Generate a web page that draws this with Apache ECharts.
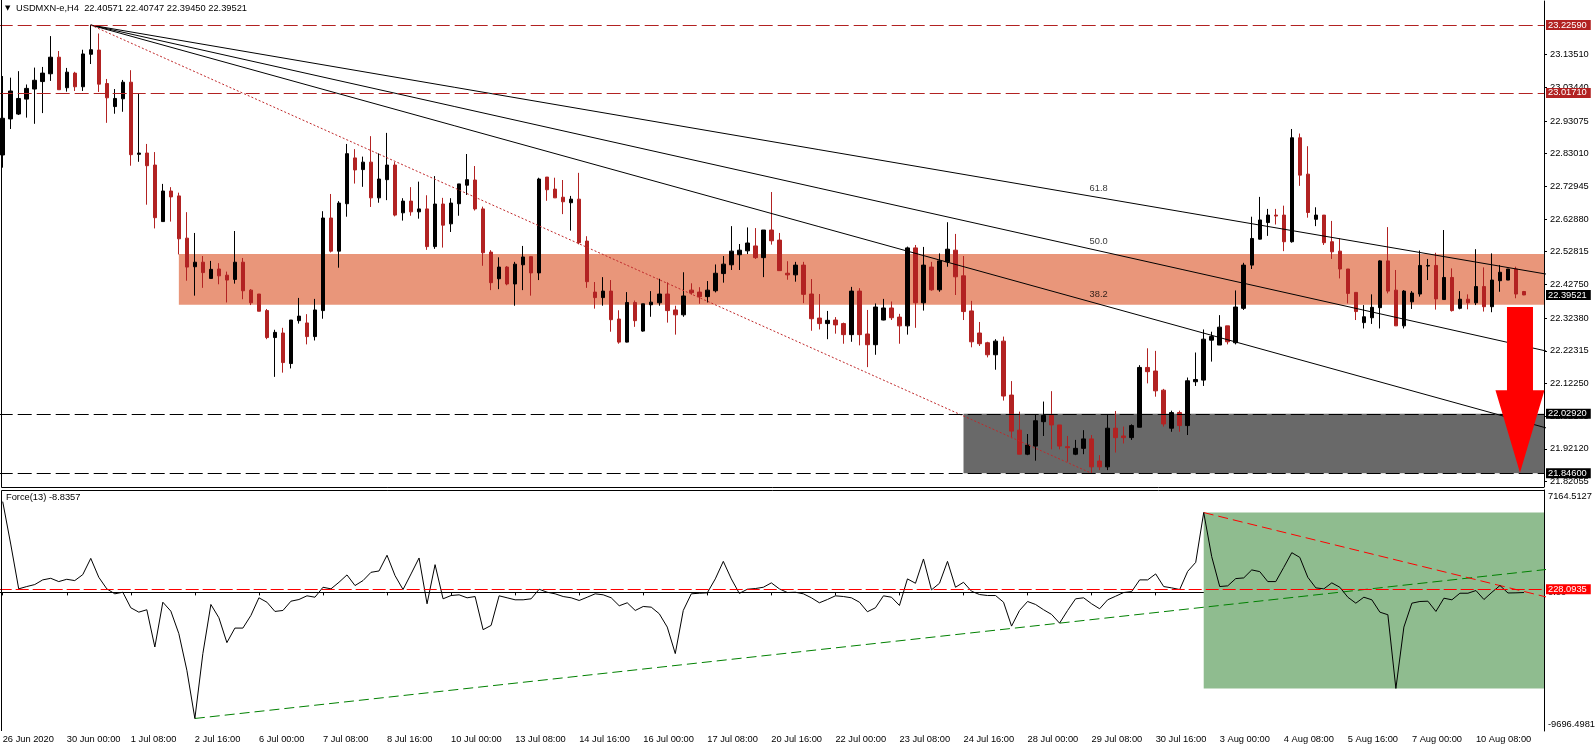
<!DOCTYPE html>
<html><head><meta charset="utf-8">
<script src="https://cdn.jsdelivr.net/npm/echarts@6/dist/echarts.min.js"></script>
<style>html,body{margin:0;padding:0;background:#fff;}#c{width:1595px;height:752px;}</style>
</head><body><div id="c"></div>
<script>
const FONT = "'Liberation Sans', Arial, sans-serif";
const FS = 9.3;
const symbolName = 'USDMXN-e,H4';
const forceName = 'Force(13)';

// x tick labels: one every 8 H4 bars
const xTickLabels = ['26 Jun 2020','30 Jun 00:00','1 Jul 08:00','2 Jul 16:00','6 Jul 00:00','7 Jul 08:00','8 Jul 16:00','10 Jul 00:00','13 Jul 08:00','14 Jul 16:00','16 Jul 00:00','17 Jul 08:00','20 Jul 16:00','22 Jul 00:00','23 Jul 08:00','24 Jul 16:00','28 Jul 00:00','29 Jul 08:00','30 Jul 16:00','3 Aug 00:00','4 Aug 08:00','5 Aug 16:00','7 Aug 00:00','10 Aug 08:00'];
const slotCount = 193; // bars plus empty right shift

// [open, close, low, high]
const ohlc = [
[22.826,22.939,22.787,23.069],[22.937,23.023,22.906,23.064],[22.952,23.000,22.949,23.084],[22.998,23.031,22.941,23.043],
[23.029,23.056,22.922,23.095],[23.052,23.078,22.955,23.097],[23.076,23.127,23.054,23.192],[23.127,23.027,23.027,23.146],
[23.033,23.081,23.021,23.094],[23.078,23.036,23.023,23.082],[23.036,23.137,23.023,23.150],[23.136,23.150,23.106,23.2259],
[23.149,23.044,23.020,23.200],[23.046,23.002,22.925,23.060],[22.975,23.000,22.953,23.029],[22.999,23.050,22.959,23.057],
[23.050,22.827,22.793,23.087],[22.828,22.832,22.805,23.015],[22.832,22.793,22.673,22.860],[22.795,22.633,22.600,22.835],
[22.621,22.715,22.621,22.737],[22.715,22.697,22.621,22.727],[22.700,22.568,22.520,22.710],[22.570,22.481,22.439,22.650],
[22.482,22.496,22.393,22.586],[22.496,22.464,22.417,22.515],[22.446,22.474,22.446,22.500],[22.475,22.454,22.428,22.493],
[22.456,22.441,22.372,22.467],[22.443,22.496,22.430,22.592],[22.496,22.408,22.382,22.509],[22.410,22.371,22.364,22.413],
[22.398,22.345,22.345,22.398],[22.347,22.264,22.259,22.352],[22.264,22.280,22.143,22.288],[22.278,22.187,22.156,22.294],
[22.184,22.318,22.169,22.318],[22.316,22.330,22.307,22.386],[22.309,22.267,22.243,22.336],[22.267,22.349,22.255,22.383],
[22.347,22.632,22.322,22.653],[22.632,22.530,22.526,22.706],[22.530,22.678,22.479,22.684],[22.676,22.830,22.636,22.860],
[22.817,22.780,22.738,22.844],[22.781,22.804,22.728,22.821],[22.804,22.694,22.666,22.884],[22.694,22.752,22.679,22.831],
[22.750,22.795,22.687,22.894],[22.795,22.641,22.637,22.804],[22.648,22.684,22.624,22.693],[22.684,22.651,22.639,22.727],
[22.651,22.660,22.630,22.744],[22.660,22.544,22.534,22.702],[22.544,22.675,22.537,22.761],[22.675,22.610,22.541,22.694],
[22.614,22.678,22.589,22.693],[22.676,22.737,22.639,22.737],[22.733,22.750,22.703,22.829],[22.749,22.660,22.655,22.792],
[22.660,22.525,22.485,22.667],[22.527,22.433,22.410,22.533],[22.445,22.481,22.413,22.511],[22.481,22.429,22.425,22.484],
[22.429,22.490,22.362,22.497],[22.488,22.512,22.410,22.546],[22.513,22.463,22.393,22.514],[22.463,22.752,22.441,22.756],
[22.758,22.719,22.685,22.758],[22.721,22.694,22.694,22.756],[22.696,22.682,22.644,22.749],[22.679,22.690,22.593,22.700],
[22.690,22.556,22.551,22.771],[22.561,22.436,22.417,22.576],[22.404,22.387,22.353,22.435],[22.387,22.407,22.362,22.450],
[22.407,22.319,22.282,22.441],[22.321,22.250,22.245,22.348],[22.250,22.372,22.249,22.404],[22.372,22.316,22.297,22.378],
[22.284,22.368,22.282,22.368],[22.365,22.373,22.328,22.407],[22.371,22.398,22.362,22.445],[22.398,22.347,22.310,22.434],
[22.349,22.334,22.273,22.362],[22.334,22.392,22.328,22.465],[22.410,22.402,22.396,22.431],[22.404,22.390,22.368,22.419],
[22.390,22.410,22.372,22.438],[22.408,22.462,22.403,22.489],[22.461,22.490,22.433,22.515],[22.488,22.530,22.472,22.607],
[22.519,22.533,22.472,22.552],[22.531,22.555,22.521,22.603],[22.546,22.510,22.506,22.601],[22.510,22.595,22.450,22.595],
[22.595,22.562,22.550,22.712],[22.564,22.470,22.470,22.586],[22.462,22.457,22.442,22.499],[22.457,22.487,22.436,22.497],
[22.487,22.397,22.370,22.497],[22.398,22.322,22.285,22.444],[22.324,22.307,22.289,22.398],[22.307,22.317,22.259,22.346],
[22.318,22.303,22.276,22.327],[22.307,22.273,22.245,22.310],[22.273,22.407,22.251,22.420],[22.407,22.273,22.240,22.416],
[22.275,22.242,22.173,22.349],[22.242,22.358,22.211,22.369],[22.318,22.355,22.317,22.383],[22.355,22.325,22.318,22.375],
[22.327,22.300,22.245,22.337],[22.300,22.540,22.273,22.544],[22.540,22.371,22.294,22.549],[22.371,22.487,22.347,22.543],
[22.481,22.411,22.408,22.497],[22.411,22.500,22.405,22.523],[22.497,22.536,22.482,22.619],[22.533,22.451,22.395,22.583],
[22.454,22.344,22.318,22.515],[22.346,22.251,22.234,22.377],[22.278,22.245,22.238,22.312],[22.248,22.211,22.203,22.251],
[22.211,22.253,22.165,22.259],[22.253,22.084,22.070,22.267],[22.087,21.976,21.954,22.130],[21.979,21.905,21.905,22.036],
[21.905,21.933,21.902,21.967],[21.930,22.008,21.885,22.026],[22.005,22.024,21.961,22.067],[22.024,21.995,21.920,22.099],
[21.995,21.930,21.920,21.995],[21.928,21.925,21.882,21.961],[21.905,21.923,21.902,21.949],[21.923,21.952,21.905,21.979],
[21.952,21.866,21.846,21.964],[21.884,21.866,21.856,21.902],[21.866,21.985,21.856,22.026],[21.985,21.956,21.910,22.038],
[21.961,21.956,21.938,21.990],[21.956,21.993,21.949,21.997],[21.988,22.172,21.988,22.179],[22.172,22.159,22.123,22.231],
[22.161,22.100,22.082,22.223],[22.102,21.998,21.990,22.106],[21.985,22.033,21.974,22.039],[22.033,21.993,21.974,22.039],
[21.993,22.131,21.964,22.141],[22.128,22.135,22.115,22.218],[22.133,22.259,22.115,22.289],[22.256,22.267,22.190,22.282],
[22.241,22.296,22.241,22.333],[22.300,22.251,22.243,22.300],[22.248,22.358,22.243,22.409],[22.354,22.487,22.349,22.494],
[22.487,22.569,22.475,22.636],[22.567,22.626,22.566,22.697],[22.618,22.641,22.577,22.660],[22.641,22.638,22.612,22.660],
[22.641,22.559,22.530,22.670],[22.559,22.879,22.556,22.906],[22.879,22.764,22.731,22.892],[22.767,22.649,22.633,22.853],
[22.628,22.641,22.607,22.665],[22.641,22.556,22.549,22.641],[22.559,22.528,22.506,22.623],[22.530,22.475,22.446,22.569],
[22.475,22.400,22.369,22.475],[22.403,22.344,22.318,22.403],[22.310,22.328,22.292,22.364],[22.325,22.357,22.306,22.397],
[22.356,22.500,22.292,22.502],[22.500,22.407,22.400,22.604],[22.410,22.300,22.300,22.472],[22.300,22.407,22.292,22.410],
[22.374,22.401,22.352,22.407],[22.398,22.486,22.390,22.532],[22.484,22.486,22.441,22.506],[22.486,22.383,22.350,22.525],
[22.381,22.449,22.381,22.595],[22.449,22.347,22.344,22.477],[22.354,22.382,22.351,22.407],[22.382,22.371,22.351,22.397],
[22.371,22.421,22.364,22.536],[22.421,22.359,22.344,22.480],[22.359,22.441,22.342,22.523],[22.439,22.465,22.405,22.487],
[22.441,22.475,22.441,22.475],[22.475,22.398,22.385,22.482],[22.40571,22.39521,22.39450,22.40747]
];

const force = [
6352,3384,249,409,548,876,987,757,918,827,
1245,2381,1057,249,-99,12,-1075,-1381,-1214,-3820,
-685,-1311,-2887,-5443,-8820,-4280,-845,-1772,-3513,-2496,
-2496,-1611,-378,-685,-1332,-1263,-615,-497,-239,-336,
360,249,709,1224,479,827,1405,1500,2600,1175,
200,1294,2409,-796,1942,-448,-218,-169,-378,-288,
-2608,-2308,-239,-378,-518,-518,-448,221,12,-99,
-288,-378,-566,-336,-99,-169,-378,-935,-727,-1263,
-984,-1033,-1493,-2426,-4280,-1263,-99,-58,-30,946,
2172,946,-70,221,270,360,667,249,-9,12,
-99,-378,-727,-497,-239,-288,-378,-685,-1353,-1075,
-239,-336,-915,946,639,2339,179,639,2172,360,
709,82,-148,-218,-218,-685,-2357,-1263,-636,-845,
-1214,-1541,-2150,-1263,-448,-378,-796,-1144,-518,-267,
-9,61,876,876,1294,409,318,200,1475,2102,
5586,2499,409,458,966,1015,1573,1454,757,757,
1754,2778,2450,1057,318,249,667,360,-336,-754,
-336,-518,-1381,-1563,-6718,-2426,-754,-636,-615,-1332,
-406,-518,-58,-58,130,-497,12,479,-40,-30,
-8.8357
];

const priceAxisMin = 21.804, priceAxisMax = 23.300;
const priceTicks = [21.82055,21.92120,22.02185,22.12250,22.22315,22.32380,22.42750,22.52815,22.62880,22.72945,22.83010,22.93075,23.03440,23.13510];
const forceAxisMax = 7164.5127, forceAxisMin = -9696.4981;
const forceTickValues = [7164.5127, 0, -9696.4981];
const forceTickLabels = ['7164.5127', '0.00', '-9696.4981'];

const resistanceLevels = [23.22590, 23.01710];
const supportLevels = [22.02920, 21.84600];
const forceLevel = 228.0935;
const supplyZone = {startBar: 22, top: 22.521, bottom: 22.365};
const demandZone = {startBar: 120, top: 22.0292, bottom: 21.846};
const fanStart = [11, 23.2259];
const fanEnd = [136, 21.846];
const fanLevels = [0.382, 0.5, 0.618];
const forceSupportIdx = [24, 132];
const forceResistIdx = [150, 187];
const forceBoxIdx = [150, 174];
const arrowDef = {bars: [189, 190], fromPrice: 22.358, headPrice: 22.102, toPrice: 21.848};

// ---------- build ----------
const cats = Array.from({length: slotCount}, (_, i) => String(i));
const last = ohlc[ohlc.length - 1];
const fmt5 = v => Number(v).toFixed(5);
const rayEnd = slotCount; // beyond right edge, clipped
function ray(p0, p1, xEnd) {
  const s = (p1[1] - p0[1]) / (p1[0] - p0[0]);
  return [p0, [xEnd, p0[1] + s * (xEnd - p0[0])]];
}
const fanSeries = fanLevels.map(L => {
  const p2 = [fanEnd[0], fanEnd[1] + L * (fanStart[1] - fanEnd[1])];
  return {type: 'line', xAxisIndex: 0, yAxisIndex: 0, data: ray(fanStart, p2, rayEnd),
    symbol: 'none', silent: true, z: 4, clip: true, animation: false,
    lineStyle: {color: '#000', width: 1}};
});
const fRange = forceAxisMax - forceAxisMin;
const forceLabelPos = [forceAxisMax - 0.028 * fRange, forceTickValues[1], forceAxisMin + 0.0255 * fRange];

const chart = echarts.init(document.getElementById('c'), null, {renderer: 'canvas'});
const option = {
  animation: false,
  backgroundColor: '#fff',
  title: [
    {text: '{t|▼} ' + symbolName + '  ' + [last[0], last[3], last[2], last[1]].map(fmt5).join(' '),
     left: 5, top: 4, padding: 0,
     textStyle: {fontSize: FS, fontWeight: 'normal', color: '#000', fontFamily: FONT,
       rich: {t: {fontSize: 7, fontFamily: 'DejaVu Sans', color: '#000', padding: [0, 3, 0, 0]}}}},
    {text: forceName + ' ' + force[force.length - 1].toFixed(4), left: 6, top: 493, padding: 0,
     textStyle: {fontSize: FS, fontWeight: 'normal', color: '#000', fontFamily: FONT}}
  ],
  grid: [
    {left: -1.3, top: 1, width: 1545.3, height: 486, outerBoundsMode: 'none', containLabel: false},
    {left: -1.3, top: 490, width: 1545.3, height: 241, outerBoundsMode: 'none', containLabel: false}
  ],
  xAxis: [
    {type: 'category', gridIndex: 0, data: cats, boundaryGap: true,
     axisLine: {show: false}, axisTick: {show: false}, axisLabel: {show: false}, splitLine: {show: false}},
    {type: 'category', gridIndex: 1, data: cats, boundaryGap: true,
     axisLine: {show: true, lineStyle: {color: '#000', width: 1}},
     axisTick: {show: true, alignWithLabel: true, interval: 7, length: 3, lineStyle: {color: '#000'}},
     axisLabel: {show: true, interval: 7, align: 'left', margin: 4, color: '#000', fontSize: FS, fontFamily: FONT,
       formatter: (v, i) => (i % 8 === 0 && xTickLabels[i / 8]) ? xTickLabels[i / 8] : ''},
     splitLine: {show: false}}
  ],
  yAxis: [
    {type: 'value', gridIndex: 0, position: 'right', min: priceAxisMin, max: priceAxisMax,
     axisLine: {show: true, lineStyle: {color: '#000', width: 1}},
     axisTick: {show: true, length: 3, customValues: priceTicks, lineStyle: {color: '#000'}},
     axisLabel: {show: true, customValues: priceTicks, margin: 6, color: '#000', fontSize: FS, fontFamily: FONT,
       formatter: v => fmt5(v)},
     splitLine: {show: false}},
    {type: 'value', gridIndex: 1, position: 'right', min: forceAxisMin, max: forceAxisMax,
     axisLine: {show: true, lineStyle: {color: '#000', width: 1}},
     axisTick: {show: false},
     axisLabel: {show: true, customValues: forceLabelPos, margin: 4, color: '#000', fontSize: FS, fontFamily: FONT,
       formatter: v => {
         let bi = 0;
         forceLabelPos.forEach((p, i) => { if (Math.abs(p - v) < Math.abs(forceLabelPos[bi] - v)) bi = i; });
         return forceTickLabels[bi];
       }},
     splitLine: {show: false}}
  ],
  series: [
    {type: 'candlestick', name: symbolName, xAxisIndex: 0, yAxisIndex: 0, data: ohlc, barWidth: 4, z: 3,
     silent: true,
     itemStyle: {color: '#000', color0: '#b22222', borderColor: '#000', borderColor0: '#b22222', borderWidth: 1},
     markArea: {silent: true, z: 1, data: [
       [{xAxis: supplyZone.startBar, yAxis: supplyZone.top, itemStyle: {color: '#e9967a'}}, {yAxis: supplyZone.bottom}],
       [{xAxis: demandZone.startBar, yAxis: demandZone.top, itemStyle: {color: '#696969'}}, {yAxis: demandZone.bottom}]
     ]},
     markLine: {silent: true, symbol: ['none', 'none'], animation: false, z: 6, precision: 5,
       label: {show: true, position: 'end', distance: 2, color: '#fff', fontSize: FS, fontFamily: FONT,
         padding: [1, 4, 0, 2], formatter: p => fmt5(p.value)},
       data: [
         ...resistanceLevels.map(v => ({yAxis: v, lineStyle: {color: '#b22222', type: [14, 5], width: 1}, label: {backgroundColor: '#b22222'}})),
         ...supportLevels.map(v => ({yAxis: v, lineStyle: {color: '#000', type: [14, 5], width: 1}, label: {backgroundColor: '#000'}})),
         {yAxis: last[1], lineStyle: {color: 'rgba(0,0,0,0)', width: 1, type: 'solid'}, label: {backgroundColor: '#000', color: '#fff'}}
       ]}
    },
    ...fanSeries,
    {type: 'line', xAxisIndex: 0, yAxisIndex: 0, data: [fanStart, fanEnd], symbol: 'none', silent: true, z: 4,
     lineStyle: {color: '#c0282a', width: 1, type: [2, 2]}},
    {type: 'scatter', xAxisIndex: 0, yAxisIndex: 0, silent: true, z: 5, symbolSize: 1,
     itemStyle: {color: 'rgba(0,0,0,0)'},
     data: fanLevels.map(L => [fanEnd[0], fanEnd[1] + L * (fanStart[1] - fanEnd[1])]),
     label: {show: true, position: 'top', distance: 3, align: 'left', offset: [-2, 0], color: '#000',
       fontSize: FS, fontFamily: FONT, formatter: p => (fanLevels[p.dataIndex] * 100).toFixed(1)}},
    // force panel
    {type: 'line', name: forceName, xAxisIndex: 1, yAxisIndex: 1, data: force, symbol: 'none', silent: true, z: 4,
     lineStyle: {color: '#000', width: 1},
     markArea: {silent: true, z: 1, data: [
       [{xAxis: forceBoxIdx[0], yAxis: force[forceBoxIdx[0]], itemStyle: {color: '#8fbc8f'}}, {yAxis: force[forceBoxIdx[1]]}]
     ]},
     markLine: {silent: true, symbol: ['none', 'none'], animation: false, z: 6, precision: 4,
       data: [{yAxis: forceLevel, lineStyle: {color: '#ff0000', type: [13, 4], width: 1}}],
       label: {show: true, position: 'end', distance: 2, color: '#fff', backgroundColor: '#ff0000', fontSize: FS,
         fontFamily: FONT, padding: [1, 4, 0, 2], formatter: p => Number(p.value).toFixed(4)}}
    },
    {type: 'line', xAxisIndex: 1, yAxisIndex: 1, symbol: 'none', silent: true, z: 3,
     data: ray([forceSupportIdx[0], force[forceSupportIdx[0]]], [forceSupportIdx[1], force[forceSupportIdx[1]]], rayEnd),
     lineStyle: {color: '#008000', width: 1, type: [10, 5]}},
    {type: 'line', xAxisIndex: 1, yAxisIndex: 1, symbol: 'none', silent: true, z: 3,
     data: ray([forceResistIdx[0], force[forceResistIdx[0]]], [forceResistIdx[1], force[forceResistIdx[1]]], rayEnd),
     lineStyle: {color: '#ff0000', width: 1, type: [10, 5]}}
  ]
};
chart.setOption(option);

// annotation arrow and panel frames
const pA = chart.convertToPixel({gridIndex: 0}, [arrowDef.bars[0], arrowDef.fromPrice]);
const pB = chart.convertToPixel({gridIndex: 0}, [arrowDef.bars[1], arrowDef.fromPrice]);
const cx = (pA[0] + pB[0]) / 2;
const yTop = pA[1];
const yHead = chart.convertToPixel({gridIndex: 0}, [arrowDef.bars[0], arrowDef.headPrice])[1];
const yTip = chart.convertToPixel({gridIndex: 0}, [arrowDef.bars[0], arrowDef.toPrice])[1];
const sh = 13, hh = 24.5;
chart.setOption({graphic: [
  {type: 'polygon', z: 20, silent: true,
   shape: {points: [[cx - sh, yTop], [cx + sh, yTop], [cx + sh, yHead], [cx + hh, yHead], [cx, yTip], [cx - hh, yHead], [cx - sh, yHead]]},
   style: {fill: '#ff0000'}},
  {type: 'line', z: 20, silent: true, shape: {x1: 1.5, y1: 0, x2: 1.5, y2: 487.5}, style: {stroke: '#000', lineWidth: 1}},
  {type: 'line', z: 20, silent: true, shape: {x1: 1.5, y1: 487.5, x2: 1544, y2: 487.5}, style: {stroke: '#000', lineWidth: 1}},
  {type: 'line', z: 20, silent: true, shape: {x1: 1.5, y1: 490.5, x2: 1544, y2: 490.5}, style: {stroke: '#000', lineWidth: 1}},
  {type: 'line', z: 20, silent: true, shape: {x1: 1.5, y1: 490.5, x2: 1.5, y2: 731}, style: {stroke: '#000', lineWidth: 1}}
]});
</script>
</body></html>
